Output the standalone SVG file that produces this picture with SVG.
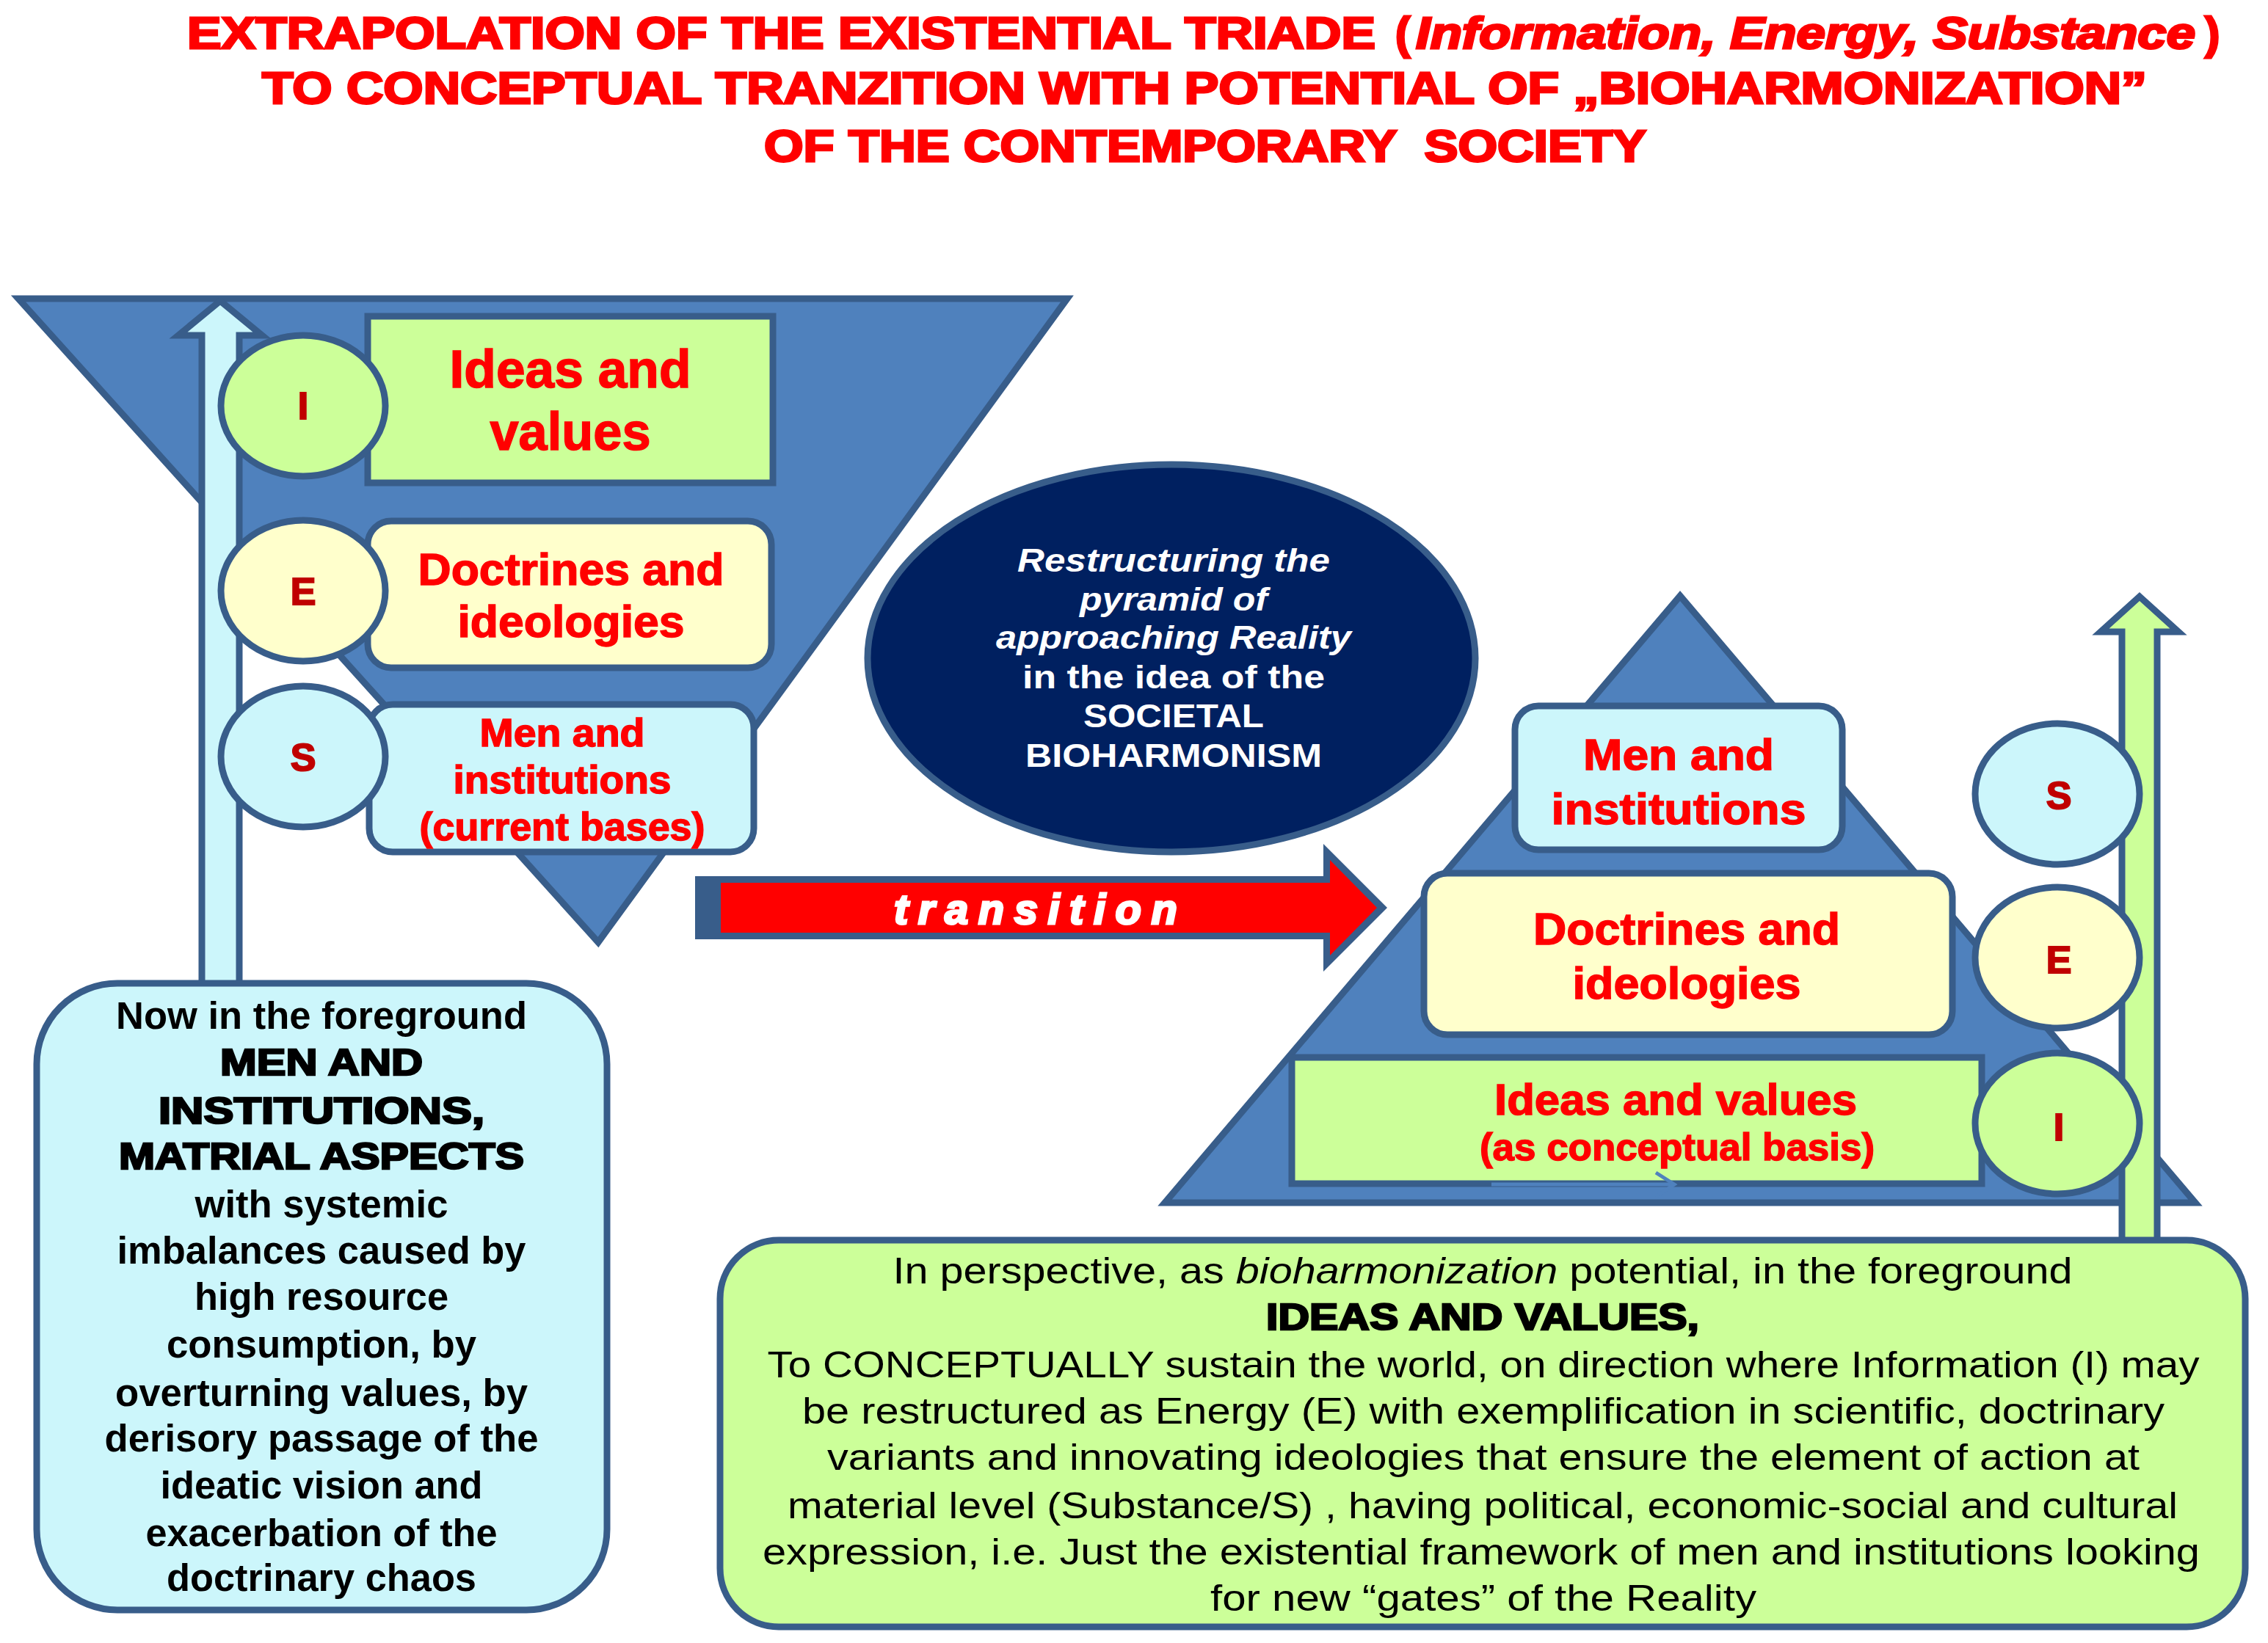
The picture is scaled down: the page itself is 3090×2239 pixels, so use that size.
<svg xmlns="http://www.w3.org/2000/svg" width="3090" height="2239" viewBox="0 0 3090 2239">
<style>
.sh{stroke:#385D8A;stroke-width:9;stroke-linejoin:miter}
.blue{fill:#4F81BD}
.green{fill:#CCFF99}
.yellow{fill:#FFFFCC}
.cyan{fill:#CCF6FB}
.navy{fill:#002060}
.title{font-family:"Liberation Sans",Arial,sans-serif;font-weight:bold;font-size:61px;fill:#FF0000;stroke:#FF0000;stroke-width:3;white-space:pre}
.lbl{font-family:"Liberation Sans",Arial,sans-serif;font-weight:bold;fill:#FF0000;stroke:#FF0000;stroke-width:1.5;text-anchor:middle}
.let{font-family:"Liberation Sans",Arial,sans-serif;font-weight:bold;font-size:52px;fill:#C00000;stroke:#C00000;stroke-width:2;text-anchor:middle}
.ell{font-family:"Liberation Sans",Arial,sans-serif;font-weight:bold;font-size:44px;fill:#FFFFFF;text-anchor:middle}
.body{font-family:"Liberation Sans",Arial,sans-serif;font-size:50px;fill:#000000;text-anchor:middle}
.bb{font-weight:bold;font-size:51px}
.blk{font-weight:bold;stroke:#000000;stroke-width:2.5}
.tr{font-family:"Liberation Sans",Arial,sans-serif;font-weight:bold;font-style:italic;font-size:58px;fill:#FFFFFF;stroke:#FFFFFF;stroke-width:3}
</style>

<g id="title">
  <text class="title" x="255" y="66" textLength="1619" lengthAdjust="spacingAndGlyphs">EXTRAPOLATION OF THE EXISTENTIAL TRIADE</text>
  <text class="title" x="1901" y="66">(</text>
  <text class="title" x="1929" y="66" font-style="italic" textLength="1062" lengthAdjust="spacingAndGlyphs">Information, Energy, Substance</text>
  <text class="title" x="3004" y="66">)</text>
  <text class="title" x="357" y="141" textLength="2568" lengthAdjust="spacingAndGlyphs">TO CONCEPTUAL TRANZITION WITH POTENTIAL OF „BIOHARMONIZATION”</text>
  <text class="title" x="1041" y="220" textLength="1202" lengthAdjust="spacingAndGlyphs">OF THE CONTEMPORARY  SOCIETY</text>
</g>

<g id="left-funnel">
  <polygon class="sh blue" points="25,407 1454,407 815,1284"/>
</g>
<g id="right-pyramid">
  <polygon class="sh blue" points="2289,812 2991,1639 1587,1639"/>
</g>

<g id="left-ideas-box">
  <rect class="sh green" x="501" y="431" width="552" height="227"/>
  <text class="lbl" x="777" y="528" font-size="72" textLength="329" lengthAdjust="spacingAndGlyphs">Ideas and</text>
  <text class="lbl" x="777" y="613" font-size="72" textLength="219" lengthAdjust="spacingAndGlyphs">values</text>
</g>
<g id="left-doctrines-box">
  <rect class="sh yellow" x="501" y="710" width="550" height="200" rx="32"/>
  <text class="lbl" x="778" y="797" font-size="62" textLength="417" lengthAdjust="spacingAndGlyphs">Doctrines and</text>
  <text class="lbl" x="778" y="868" font-size="62" textLength="309" lengthAdjust="spacingAndGlyphs">ideologies</text>
</g>
<g id="left-men-box">
  <rect class="sh cyan" x="503" y="960" width="524" height="201" rx="32"/>
  <text class="lbl" x="766" y="1017" font-size="53" textLength="225" lengthAdjust="spacingAndGlyphs">Men and</text>
  <text class="lbl" x="766" y="1081" font-size="53" textLength="297" lengthAdjust="spacingAndGlyphs">institutions</text>
  <text class="lbl" x="766" y="1145" font-size="53" textLength="389" lengthAdjust="spacingAndGlyphs">(current bases)</text>
</g>

<g id="right-men-box">
  <rect class="sh cyan" x="2064" y="962" width="446" height="196" rx="32"/>
  <text class="lbl" x="2287" y="1049" font-size="60" textLength="260" lengthAdjust="spacingAndGlyphs">Men and</text>
  <text class="lbl" x="2287" y="1123" font-size="60" textLength="347" lengthAdjust="spacingAndGlyphs">institutions</text>
</g>
<g id="right-doctrines-box">
  <rect class="sh yellow" x="1940" y="1190" width="720" height="220" rx="32"/>
  <text class="lbl" x="2298" y="1287" font-size="62" textLength="418" lengthAdjust="spacingAndGlyphs">Doctrines and</text>
  <text class="lbl" x="2298" y="1361" font-size="62" textLength="311" lengthAdjust="spacingAndGlyphs">ideologies</text>
</g>
<g id="right-ideas-box">
  <rect class="sh green" x="1760" y="1441" width="940" height="172"/>
  <text class="lbl" x="2283" y="1519" font-size="60" textLength="494" lengthAdjust="spacingAndGlyphs">Ideas and values</text>
  <text class="lbl" x="2285" y="1581" font-size="52" textLength="538" lengthAdjust="spacingAndGlyphs">(as conceptual basis)</text>
</g>

<g id="restructuring-ellipse">
  <ellipse class="sh navy" cx="1596" cy="897" rx="414" ry="264"/>
  <text class="ell" x="1599" y="779" font-style="italic" textLength="426" lengthAdjust="spacingAndGlyphs">Restructuring the</text>
  <text class="ell" x="1599" y="832" font-style="italic" textLength="256" lengthAdjust="spacingAndGlyphs">pyramid of</text>
  <text class="ell" x="1599" y="884" font-style="italic" textLength="484" lengthAdjust="spacingAndGlyphs">approaching Reality</text>
  <text class="ell" x="1599" y="938" textLength="412" lengthAdjust="spacingAndGlyphs">in the idea of the</text>
  <text class="ell" x="1599" y="991" textLength="246" lengthAdjust="spacingAndGlyphs">SOCIETAL</text>
  <text class="ell" x="1599" y="1045" textLength="404" lengthAdjust="spacingAndGlyphs">BIOHARMONISM</text>
</g>

<g id="connectors">
  <polygon class="sh cyan" points="300,410 357,457 326,457 326,1345 275,1345 275,457 243,457"/>
  <polygon class="sh green" points="2915,813 2968,861 2939,861 2939,1695 2891,1695 2891,861 2862,861"/>
  <g id="transition-arrow">
    <polygon fill="#385D8A" points="947,1194 1803,1194 1803,1150 1890,1237 1803,1324 1803,1280 947,1280"/>
    <polygon fill="#FF0000" points="982,1203 1812,1203 1812,1172 1876,1237 1812,1302 1812,1271 982,1271"/>
    <text class="tr" x="1218" y="1259" textLength="386" lengthAdjust="spacing">transition</text>
  </g>
  <g fill="none" stroke="#4F81BD" stroke-width="5">
    <line x1="2032" y1="1614" x2="2279" y2="1614"/>
    <polyline points="2256,1598 2281,1614 2256,1631"/>
  </g>
</g>

<g id="left-I">
  <ellipse class="sh green" cx="413" cy="553" rx="112" ry="96"/>
  <text class="let" x="413" y="571">I</text>
</g>
<g id="left-E">
  <ellipse class="sh yellow" cx="413" cy="805" rx="112" ry="96"/>
  <text class="let" x="413" y="824">E</text>
</g>
<g id="left-S">
  <ellipse class="sh cyan" cx="413" cy="1031" rx="112" ry="96"/>
  <text class="let" x="413" y="1050">S</text>
</g>
<g id="right-S">
  <ellipse class="sh cyan" cx="2803" cy="1082" rx="112" ry="96"/>
  <text class="let" x="2805" y="1102">S</text>
</g>
<g id="right-E">
  <ellipse class="sh yellow" cx="2803" cy="1305" rx="112" ry="96"/>
  <text class="let" x="2805" y="1326">E</text>
</g>
<g id="right-I">
  <ellipse class="sh green" cx="2803" cy="1531" rx="112" ry="96"/>
  <text class="let" x="2805" y="1554">I</text>
</g>

<g id="now-box">
  <rect class="sh cyan" x="50" y="1340" width="777" height="854" rx="110"/>
  <text class="body bb" x="438" y="1402" textLength="560" lengthAdjust="spacingAndGlyphs">Now in the foreground</text>
  <text class="body blk" x="438" y="1465" textLength="276" lengthAdjust="spacingAndGlyphs">MEN AND</text>
  <text class="body blk" x="438" y="1531" textLength="444" lengthAdjust="spacingAndGlyphs">INSTITUTIONS,</text>
  <text class="body blk" x="438" y="1593" textLength="552" lengthAdjust="spacingAndGlyphs">MATRIAL ASPECTS</text>
  <text class="body bb" x="438" y="1659" textLength="345" lengthAdjust="spacingAndGlyphs">with systemic</text>
  <text class="body bb" x="438" y="1722" textLength="557" lengthAdjust="spacingAndGlyphs">imbalances caused by</text>
  <text class="body bb" x="438" y="1785" textLength="346" lengthAdjust="spacingAndGlyphs">high resource</text>
  <text class="body bb" x="438" y="1850" textLength="422" lengthAdjust="spacingAndGlyphs">consumption, by</text>
  <text class="body bb" x="438" y="1916" textLength="562" lengthAdjust="spacingAndGlyphs">overturning values, by</text>
  <text class="body bb" x="438" y="1978" textLength="591" lengthAdjust="spacingAndGlyphs">derisory passage of the</text>
  <text class="body bb" x="438" y="2042" textLength="439" lengthAdjust="spacingAndGlyphs">ideatic vision and</text>
  <text class="body bb" x="438" y="2107" textLength="479" lengthAdjust="spacingAndGlyphs">exacerbation of the</text>
  <text class="body bb" x="438" y="2168" textLength="422" lengthAdjust="spacingAndGlyphs">doctrinary chaos</text>
</g>

<g id="perspective-box">
  <rect class="sh green" x="981" y="1690" width="2078" height="527" rx="80"/>
  <text class="body" x="2020" y="1749" textLength="1607" lengthAdjust="spacingAndGlyphs">In perspective, as <tspan font-style="italic">bioharmonization</tspan> potential, in the foreground</text>
  <text class="body blk" x="2020" y="1812" textLength="590" lengthAdjust="spacingAndGlyphs">IDEAS AND VALUES,</text>
  <text class="body" x="2021" y="1877" textLength="1951" lengthAdjust="spacingAndGlyphs">To CONCEPTUALLY sustain the world, on direction where Information (I) may</text>
  <text class="body" x="2021" y="1940" textLength="1856" lengthAdjust="spacingAndGlyphs">be restructured as Energy (E) with exemplification in scientific, doctrinary</text>
  <text class="body" x="2021" y="2003" textLength="1788" lengthAdjust="spacingAndGlyphs">variants and innovating ideologies that ensure the element of action at</text>
  <text class="body" x="2020" y="2069" textLength="1894" lengthAdjust="spacingAndGlyphs">material level (Substance/S) , having political, economic-social and cultural</text>
  <text class="body" x="2018" y="2132" textLength="1958" lengthAdjust="spacingAndGlyphs">expression, i.e. Just the existential framework of men and institutions looking</text>
  <text class="body" x="2021" y="2195" textLength="744" lengthAdjust="spacingAndGlyphs">for new “gates” of the Reality</text>
</g>
</svg>
